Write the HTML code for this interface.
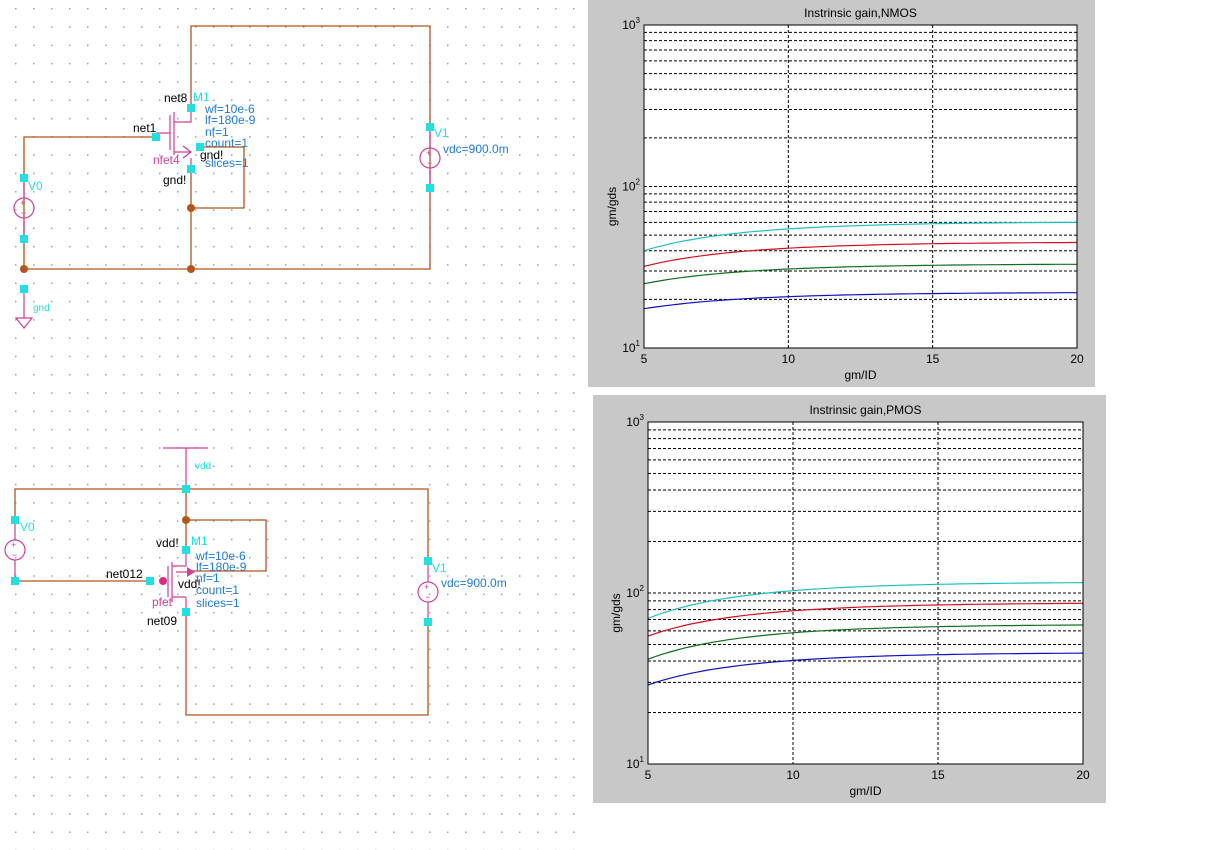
<!DOCTYPE html>
<html><head><meta charset="utf-8"><style>
body{margin:0;width:1218px;height:850px;background:#fff;overflow:hidden;font-family:"Liberation Sans",sans-serif}
svg{position:absolute;left:0;top:0}
</style></head><body>
<svg width="1218" height="850" xmlns="http://www.w3.org/2000/svg" font-family="Liberation Sans, sans-serif">
<defs><pattern id="dots" x="15" y="8" width="18" height="18.3" patternUnits="userSpaceOnUse"><rect width="1.5" height="1.5" fill="#a0a0a0"/></pattern></defs>
<rect x="0" y="0" width="588" height="850" fill="url(#dots)"/>
<!-- schematic 1 -->
<g stroke="#b5541c" stroke-width="1.3" fill="none">
<path d="M191 108V26H430V269H24V137H156"/>
<path d="M191 169V269M200 147H244V208H191"/>
</g>
<g stroke="#d0409a" stroke-width="1.2" fill="none">
<path d="M191 108V122H174M170 118V133H156M170 115V150M174 112V155M174 152H191M183 146L191 152L183 158"/>
<path d="M191 169V158M24 178V198M24 218V239M24 289V318M16 318H32L24 328Z"/>
<circle cx="24" cy="208" r="10"/><circle cx="430" cy="158" r="10"/>
<path d="M430 127V148M430 168V188"/>
</g>
<g fill="#d0409a" font-size="9"><text x="20" y="206">+</text><text x="21" y="216">−</text><text x="426" y="156">+</text><text x="427" y="166">−</text></g>
<g fill="#b5541c"><circle cx="191" cy="208" r="4"/><circle cx="191" cy="269" r="4"/><circle cx="24" cy="269" r="4"/></g>
<g fill="#22e0e0"><rect x="187" y="104" width="8" height="8"/><rect x="152" y="133" width="8" height="8"/><rect x="196" y="143" width="8" height="8"/><rect x="187" y="165" width="8" height="8"/><rect x="20" y="174" width="8" height="8"/><rect x="20" y="235" width="8" height="8"/><rect x="20" y="285" width="8" height="8"/><rect x="426" y="123" width="8" height="8"/><rect x="426" y="184" width="8" height="8"/></g>
<g font-size="12">
<text x="164" y="102" fill="#000">net8</text><text x="193" y="101" fill="#22e0e0">M1</text>
<text x="133" y="132" fill="#000">net1</text>
<text x="205" y="113" fill="#1e7ad8">wf=10e-6</text><text x="205" y="124" fill="#1e7ad8">lf=180e-9</text><text x="205" y="136" fill="#1e7ad8">nf=1</text><text x="205" y="147" fill="#1e7ad8">count=1</text><text x="205" y="167" fill="#1e7ad8">slices=1</text>
<text x="200" y="159" fill="#000">gnd!</text><text x="153" y="164" fill="#d0409a">nfet4</text><text x="163" y="184" fill="#000">gnd!</text>
<text x="28" y="190" fill="#22e0e0">V0</text><text x="33" y="311" fill="#22e0e0" font-size="10">gnd</text>
<text x="434" y="137" fill="#22e0e0">V1</text><text x="443" y="153" fill="#1e7ad8">vdc=900.0m</text>
</g>
<!-- schematic 2 -->
<g stroke="#b5541c" stroke-width="1.3" fill="none">
<path d="M15 520V489H428V561M15 581H150M186 489V550M186 520H266V571H192M186 612V715H428V622"/>
</g>
<g stroke="#d0409a" stroke-width="1.2" fill="none">
<path d="M163 448H208M186 448V489"/>
<path d="M186 550V566H172M168 566V597M172 562V602M176 572H192M186 597H172M186 612V597M15 520V540M15 560V581M428 561V582M428 602V622"/>
<circle cx="15" cy="550" r="10"/><circle cx="428" cy="592" r="10"/>
</g>
<path d="M187 567L195 572L187 577Z" fill="#d0409a"/>
<circle cx="163" cy="581" r="4" fill="#e02a80"/>
<g fill="#d0409a" font-size="9"><text x="11" y="548">+</text><text x="12" y="558">−</text><text x="424" y="590">+</text><text x="425" y="600">−</text></g>
<circle cx="186" cy="520" r="4" fill="#b5541c"/>
<g fill="#22e0e0"><rect x="182" y="485" width="8" height="8"/><rect x="11" y="516" width="8" height="8"/><rect x="11" y="577" width="8" height="8"/><rect x="146" y="577" width="8" height="8"/><rect x="182" y="546" width="8" height="8"/><rect x="182" y="608" width="8" height="8"/><rect x="424" y="557" width="8" height="8"/><rect x="424" y="618" width="8" height="8"/></g>
<g font-size="12">
<text x="195" y="469" fill="#22e0e0" font-size="10">vdd</text><text x="20" y="531" fill="#22e0e0">V0</text>
<text x="156" y="547" fill="#000">vdd!</text><text x="191" y="545" fill="#22e0e0">M1</text>
<text x="196" y="560" fill="#1e7ad8">wf=10e-6</text><text x="196" y="571" fill="#1e7ad8">lf=180e-9</text><text x="196" y="582" fill="#1e7ad8">nf=1</text><text x="196" y="594" fill="#1e7ad8">count=1</text><text x="196" y="607" fill="#1e7ad8">slices=1</text>
<text x="178" y="588" fill="#000">vdd!</text><text x="106" y="578" fill="#000">net012</text>
<text x="152" y="606" fill="#d0409a">pfet</text><text x="147" y="625" fill="#000">net09</text>
<text x="432" y="572" fill="#22e0e0">V1</text><text x="441" y="587" fill="#1e7ad8">vdc=900.0m</text>
</g>
<g id="p1"></g><g id="p2"></g>
</svg>
<script>
function plot(id,px,py,pw,ph,L,R,T,B,title,curves){
 var g=document.getElementById(id),s='';
 s+='<rect x="'+px+'" y="'+py+'" width="'+pw+'" height="'+ph+'" fill="#c8c8c8"/>';
 s+='<rect x="'+L+'" y="'+T+'" width="'+(R-L)+'" height="'+(B-T)+'" fill="#fff"/>';
 var dh=(B-T)/2;
 function Y(v){return B-dh*Math.log10(v/10);}
 function X(x){return L+(R-L)*(x-5)/15;}
 for(var d=10;d<=100;d*=10)for(var k=1;k<=10;k++){var v=d*k;if(v==10)continue;var y=Y(v);
  s+='<line x1="'+L+'" x2="'+R+'" y1="'+y+'" y2="'+y+'" stroke="#000" stroke-width="1" stroke-dasharray="3,2"/>';}
 [10,15].forEach(function(x){s+='<line x1="'+X(x)+'" x2="'+X(x)+'" y1="'+T+'" y2="'+B+'" stroke="#000" stroke-dasharray="3,2"/>';});
 curves.forEach(function(c){var p='';for(var x=5;x<=20.001;x+=0.25){var f=(1-Math.exp(-(x-5)/4))/(1-Math.exp(-15/4));var v=c[1]+(c[2]-c[1])*f;p+=(p?'L':'M')+X(x).toFixed(1)+' '+Y(v).toFixed(1);}
  s+='<path d="'+p+'" fill="none" stroke="'+c[0]+'" stroke-width="1.2"/>';});
 s+='<rect x="'+L+'" y="'+T+'" width="'+(R-L)+'" height="'+(B-T)+'" fill="none" stroke="#000"/>';
 s+='<g font-size="12" fill="#000">';
 [5,10,15,20].forEach(function(x){s+='<text x="'+X(x)+'" y="'+(B+15)+'" text-anchor="middle">'+x+'</text>';});
 [[3,T],[2,Y(100)],[1,B]].forEach(function(a){s+='<text x="'+(L-4)+'" y="'+(a[1]+4)+'" text-anchor="end">10<tspan dy="-6" font-size="8">'+a[0]+'</tspan></text>';});
 s+='<text x="'+((L+R)/2)+'" y="'+(T-8)+'" text-anchor="middle">'+title+'</text>';
 s+='<text x="'+((L+R)/2)+'" y="'+(B+31)+'" text-anchor="middle">gm/ID</text>';
 s+='<text transform="translate('+(L-28)+','+((T+B)/2+20)+') rotate(-90)" text-anchor="middle">gm/gds</text></g>';
 g.innerHTML=s;
}
plot('p1',588,0,507,387,644,1077,25,348,'Instrinsic gain,NMOS',[['#20c0c0',40,60],['#d01020',32,45],['#107020',25,33],['#1010c0',17.5,22]]);
plot('p2',593,395,513,408,648,1083,422,764,'Instrinsic gain,PMOS',[['#20c0c0',71,115],['#d01020',56,87],['#107020',41,65],['#1010c0',29,44.5]]);
</script>
</body></html>
